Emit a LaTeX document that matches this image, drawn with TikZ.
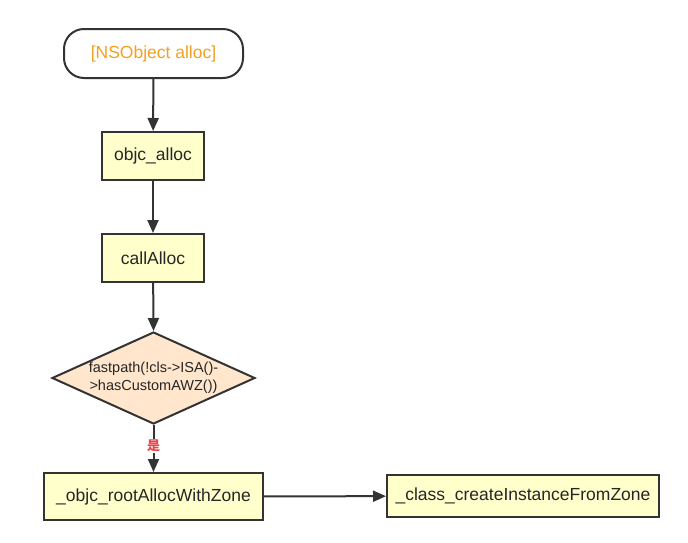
\documentclass[tikz,border=0pt]{standalone}
\usepackage{fontspec}
\setmainfont{Liberation Sans}
\newfontfamily\cjk{Noto Sans CJK SC}
\usetikzlibrary{shapes.geometric,arrows.meta}
\definecolor{lineC}{HTML}{333333}
\definecolor{boxfill}{HTML}{FFFFCC}
\definecolor{decfill}{HTML}{FFE6CC}
\definecolor{orangeT}{HTML}{F5A020}
\definecolor{redT}{HTML}{E8464A}
\tikzset{
  base/.style={draw=lineC, line width=2pt, inner sep=0pt, font=\fontsize{17.5}{20}\selectfont, text=black!85},
  procbox/.style={base, rectangle, fill=boxfill},
  startbox/.style={base, rectangle, rounded corners=20pt, fill=white, text=orangeT},
  decbox/.style={base, diamond, fill=decfill, font=\fontsize{14.5}{18}\selectfont, align=center, aspect=2.2},
  conn/.style={draw=lineC, line width=2pt, -{Triangle[length=13pt,width=11pt]}},
}
\begin{document}
\begin{tikzpicture}[x=1pt,y=-1pt]
\useasboundingbox (0,0) rectangle (688,542);
\node[startbox, minimum width=179pt, minimum height=49pt] (start) at (153.5,53.5) {[NSObject alloc]};
\node[procbox, minimum width=102pt, minimum height=48pt] (objc) at (153,156) {objc\_alloc};
\node[procbox, minimum width=102pt, minimum height=48pt] (call) at (153,258) {callAlloc};
\node[decbox, minimum width=203pt, minimum height=92pt] (dec) at (153.5,378) {fastpath(!cls->ISA()-\\>hasCustomAWZ())};
\node[procbox, minimum width=219pt, minimum height=47pt] (root) at (153.5,496.5) {\_objc\_rootAllocWithZone};
\node[procbox, minimum width=272pt, minimum height=42pt] (cls) at (523,496) {\_class\_createInstanceFromZone};
\draw[conn] (start) -- (objc);
\draw[conn] (objc) -- (call);
\draw[conn] (call) -- (dec.north);
\draw[conn] (dec.south) -- node[fill=white, inner sep=1pt, text=redT, font=\cjk\fontsize{13}{15}\selectfont\bfseries, pos=0.45] (yes) {是} (root);
\draw[conn] (root) -- (cls);
\end{tikzpicture}
\end{document}
